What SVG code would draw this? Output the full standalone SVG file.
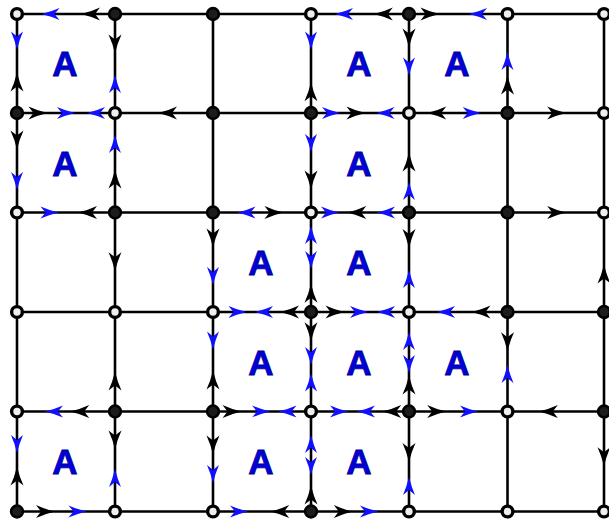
<svg xmlns="http://www.w3.org/2000/svg" width="609" height="521" viewBox="0 0 609 521">
<style>
.ln{stroke:#000;stroke-width:2.6;fill:none}
.nf{fill:#1c1c1c;stroke:#000;stroke-width:2.6}
.no{fill:#eeeeee;stroke:#000;stroke-width:3.4}
.bk{fill:#000}
.bl{fill:#1010ff}
.A{font-family:"Liberation Sans",Arial,sans-serif;font-weight:bold;font-size:35px;fill:#0000dd;stroke:#00008b;stroke-width:0.8;text-anchor:middle}
</style>
<defs>
<path id="ak" class="bk" d="M9.5,0 Q-1,-2.5 -9.5,-6.5 L-4.5,0 L-9.5,6.5 Q-1,2.5 9.5,0 Z"/>
<path id="ab" class="bl" d="M9,0 Q-1,-2.5 -9,-6 L-4,0 L-9,6 Q-1,2.5 9,0 Z"/>
</defs>
<rect width="609" height="521" fill="#fff"/>
<g id="connectors">
<g id="grid-lines">
<line class="ln" x1="17" y1="14" x2="604" y2="14"/>
<line class="ln" x1="17" y1="113" x2="604" y2="113"/>
<line class="ln" x1="17" y1="212.5" x2="604" y2="212.5"/>
<line class="ln" x1="17" y1="312" x2="604" y2="312"/>
<line class="ln" x1="17" y1="411.5" x2="604" y2="411.5"/>
<line class="ln" x1="17" y1="511.5" x2="604" y2="511.5"/>
<line class="ln" x1="17" y1="14" x2="17" y2="511.5"/>
<line class="ln" x1="115" y1="14" x2="115" y2="511.5"/>
<line class="ln" x1="213" y1="14" x2="213" y2="511.5"/>
<line class="ln" x1="311" y1="14" x2="311" y2="511.5"/>
<line class="ln" x1="409" y1="14" x2="409" y2="511.5"/>
<line class="ln" x1="507.5" y1="14" x2="507.5" y2="511.5"/>
<line class="ln" x1="604" y1="14" x2="604" y2="511.5"/>
</g>
<g id="arrows">
<use href="#ab" transform="translate(50.5 14) rotate(180)"/>
<use href="#ak" transform="translate(90.5 14) rotate(180)"/>
<use href="#ab" transform="translate(344 14) rotate(180)"/>
<use href="#ak" transform="translate(383.3 14) rotate(180)"/>
<use href="#ak" transform="translate(430 14)"/>
<use href="#ab" transform="translate(478 14) rotate(180)"/>
<use href="#ak" transform="translate(38 113)"/>
<use href="#ab" transform="translate(66 113)"/>
<use href="#ab" transform="translate(96 113) rotate(180)"/>
<use href="#ak" transform="translate(167.5 113) rotate(180)"/>
<use href="#ab" transform="translate(331 113)"/>
<use href="#ak" transform="translate(356 113)"/>
<use href="#ab" transform="translate(385.5 113) rotate(180)"/>
<use href="#ak" transform="translate(436.7 113) rotate(180)"/>
<use href="#ab" transform="translate(471.7 113)"/>
<use href="#ak" transform="translate(556.7 113)"/>
<use href="#ab" transform="translate(49.5 212.5)"/>
<use href="#ak" transform="translate(87.5 212.5) rotate(180)"/>
<use href="#ab" transform="translate(246.5 212.5) rotate(180)"/>
<use href="#ak" transform="translate(274 212.5)"/>
<use href="#ab" transform="translate(330 212.5)"/>
<use href="#ak" transform="translate(356.7 212.5) rotate(180)"/>
<use href="#ab" transform="translate(386 212.5) rotate(180)"/>
<use href="#ak" transform="translate(556.7 212.5)"/>
<use href="#ab" transform="translate(237.5 312)"/>
<use href="#ab" transform="translate(264 312) rotate(180)"/>
<use href="#ak" transform="translate(289.5 312) rotate(180)"/>
<use href="#ak" transform="translate(335 312)"/>
<use href="#ab" transform="translate(359 312)"/>
<use href="#ab" transform="translate(386 312) rotate(180)"/>
<use href="#ab" transform="translate(446 312) rotate(180)"/>
<use href="#ak" transform="translate(481 312) rotate(180)"/>
<use href="#ab" transform="translate(54 411.5) rotate(180)"/>
<use href="#ak" transform="translate(79.7 411.5) rotate(180)"/>
<use href="#ak" transform="translate(232 411.5)"/>
<use href="#ab" transform="translate(261 411.5)"/>
<use href="#ab" transform="translate(287.5 411.5) rotate(180)"/>
<use href="#ab" transform="translate(339 411.5)"/>
<use href="#ab" transform="translate(366 411.5) rotate(180)"/>
<use href="#ak" transform="translate(391.7 411.5) rotate(180)"/>
<use href="#ak" transform="translate(436.7 411.5)"/>
<use href="#ab" transform="translate(469 411.5)"/>
<use href="#ak" transform="translate(548.3 411.5) rotate(180)"/>
<use href="#ak" transform="translate(45.5 511.5)"/>
<use href="#ab" transform="translate(77.5 511.5)"/>
<use href="#ab" transform="translate(239 511.5)"/>
<use href="#ak" transform="translate(279.7 511.5) rotate(180)"/>
<use href="#ak" transform="translate(343.3 511.5)"/>
<use href="#ab" transform="translate(369 511.5)"/>
<use href="#ab" transform="translate(17 40.5) rotate(90)"/>
<use href="#ak" transform="translate(17 82) rotate(270)"/>
<use href="#ak" transform="translate(17 140) rotate(90)"/>
<use href="#ab" transform="translate(17 181) rotate(90)"/>
<use href="#ab" transform="translate(17 444) rotate(90)"/>
<use href="#ak" transform="translate(17 476) rotate(270)"/>
<use href="#ak" transform="translate(115 44) rotate(90)"/>
<use href="#ab" transform="translate(115 84) rotate(270)"/>
<use href="#ab" transform="translate(115 144) rotate(270)"/>
<use href="#ak" transform="translate(115 179) rotate(270)"/>
<use href="#ak" transform="translate(115 261.7) rotate(90)"/>
<use href="#ak" transform="translate(115 381) rotate(270)"/>
<use href="#ak" transform="translate(115 440) rotate(90)"/>
<use href="#ab" transform="translate(115 478) rotate(270)"/>
<use href="#ak" transform="translate(213 238) rotate(90)"/>
<use href="#ab" transform="translate(213 276) rotate(90)"/>
<use href="#ab" transform="translate(213 340.5) rotate(90)"/>
<use href="#ak" transform="translate(213 380) rotate(270)"/>
<use href="#ak" transform="translate(213 445) rotate(90)"/>
<use href="#ab" transform="translate(213 474) rotate(90)"/>
<use href="#ab" transform="translate(311 40.5) rotate(90)"/>
<use href="#ak" transform="translate(311 91.7) rotate(270)"/>
<use href="#ab" transform="translate(311 143) rotate(90)"/>
<use href="#ak" transform="translate(311 180) rotate(90)"/>
<use href="#ab" transform="translate(311 235) rotate(270)"/>
<use href="#ab" transform="translate(311 260) rotate(90)"/>
<use href="#ak" transform="translate(311 293.3) rotate(270)"/>
<use href="#ak" transform="translate(311 331.7) rotate(90)"/>
<use href="#ab" transform="translate(311 356) rotate(90)"/>
<use href="#ab" transform="translate(311 382.5) rotate(270)"/>
<use href="#ab" transform="translate(311 444) rotate(270)"/>
<use href="#ab" transform="translate(311 466) rotate(90)"/>
<use href="#ak" transform="translate(311 495) rotate(270)"/>
<use href="#ak" transform="translate(409 38) rotate(90)"/>
<use href="#ab" transform="translate(409 66.5) rotate(90)"/>
<use href="#ak" transform="translate(409 162) rotate(270)"/>
<use href="#ab" transform="translate(409 191) rotate(270)"/>
<use href="#ak" transform="translate(409 238.5) rotate(90)"/>
<use href="#ab" transform="translate(409 279) rotate(270)"/>
<use href="#ab" transform="translate(409 341) rotate(270)"/>
<use href="#ab" transform="translate(409 364) rotate(90)"/>
<use href="#ak" transform="translate(409 385) rotate(270)"/>
<use href="#ak" transform="translate(409 452.5) rotate(90)"/>
<use href="#ab" transform="translate(409 486) rotate(270)"/>
<use href="#ab" transform="translate(507.5 61) rotate(270)"/>
<use href="#ak" transform="translate(507.5 85) rotate(270)"/>
<use href="#ak" transform="translate(507.5 341.7) rotate(90)"/>
<use href="#ab" transform="translate(507.5 374) rotate(270)"/>
<use href="#ak" transform="translate(604 274) rotate(270)"/>
<use href="#ak" transform="translate(604 456.7) rotate(90)"/>
</g>
</g>
<g id="nodes">
<g id="n-0-0"><circle class="no" cx="17" cy="14" r="5.4"/></g>
<g id="n-1-0"><circle class="nf" cx="115" cy="14" r="5.9"/></g>
<g id="n-2-0"><circle class="nf" cx="213" cy="14" r="5.9"/></g>
<g id="n-3-0"><circle class="no" cx="311" cy="14" r="5.4"/></g>
<g id="n-4-0"><circle class="nf" cx="409" cy="14" r="5.9"/></g>
<g id="n-5-0"><circle class="no" cx="507.5" cy="14" r="5.4"/></g>
<g id="n-6-0"><circle class="no" cx="604" cy="14" r="5.4"/></g>
<g id="n-0-1"><circle class="nf" cx="17" cy="113" r="5.9"/></g>
<g id="n-1-1"><circle class="no" cx="115" cy="113" r="5.4"/></g>
<g id="n-2-1"><circle class="nf" cx="213" cy="113" r="5.9"/></g>
<g id="n-3-1"><circle class="nf" cx="311" cy="113" r="5.9"/></g>
<g id="n-4-1"><circle class="no" cx="409" cy="113" r="5.4"/></g>
<g id="n-5-1"><circle class="nf" cx="507.5" cy="113" r="5.9"/></g>
<g id="n-6-1"><circle class="no" cx="604" cy="113" r="5.4"/></g>
<g id="n-0-2"><circle class="no" cx="17" cy="212.5" r="5.4"/></g>
<g id="n-1-2"><circle class="nf" cx="115" cy="212.5" r="5.9"/></g>
<g id="n-2-2"><circle class="nf" cx="213" cy="212.5" r="5.9"/></g>
<g id="n-3-2"><circle class="no" cx="311" cy="212.5" r="5.4"/></g>
<g id="n-4-2"><circle class="nf" cx="409" cy="212.5" r="5.9"/></g>
<g id="n-5-2"><circle class="nf" cx="507.5" cy="212.5" r="5.9"/></g>
<g id="n-6-2"><circle class="no" cx="604" cy="212.5" r="5.4"/></g>
<g id="n-0-3"><circle class="no" cx="17" cy="312" r="5.4"/></g>
<g id="n-1-3"><circle class="no" cx="115" cy="312" r="5.4"/></g>
<g id="n-2-3"><circle class="no" cx="213" cy="312" r="5.4"/></g>
<g id="n-3-3"><circle class="nf" cx="311" cy="312" r="5.9"/></g>
<g id="n-4-3"><circle class="no" cx="409" cy="312" r="5.4"/></g>
<g id="n-5-3"><circle class="nf" cx="507.5" cy="312" r="5.9"/></g>
<g id="n-6-3"><circle class="nf" cx="604" cy="312" r="5.9"/></g>
<g id="n-0-4"><circle class="no" cx="17" cy="411.5" r="5.4"/></g>
<g id="n-1-4"><circle class="nf" cx="115" cy="411.5" r="5.9"/></g>
<g id="n-2-4"><circle class="nf" cx="213" cy="411.5" r="5.9"/></g>
<g id="n-3-4"><circle class="no" cx="311" cy="411.5" r="5.4"/></g>
<g id="n-4-4"><circle class="nf" cx="409" cy="411.5" r="5.9"/></g>
<g id="n-5-4"><circle class="no" cx="507.5" cy="411.5" r="5.4"/></g>
<g id="n-6-4"><circle class="nf" cx="604" cy="411.5" r="5.9"/></g>
<g id="n-0-5"><circle class="nf" cx="17" cy="511.5" r="5.9"/></g>
<g id="n-1-5"><circle class="no" cx="115" cy="511.5" r="5.4"/></g>
<g id="n-2-5"><circle class="no" cx="213" cy="511.5" r="5.4"/></g>
<g id="n-3-5"><circle class="nf" cx="311" cy="511.5" r="5.9"/></g>
<g id="n-4-5"><circle class="no" cx="409" cy="511.5" r="5.4"/></g>
<g id="n-5-5"><circle class="no" cx="507.5" cy="511.5" r="5.4"/></g>
<g id="n-6-5"><circle class="no" cx="604" cy="511.5" r="5.4"/></g>
</g>
<g id="face-labels">
<text class="A" x="65" y="76">A</text>
<text class="A" x="359" y="76">A</text>
<text class="A" x="457" y="76">A</text>
<text class="A" x="65" y="175.5">A</text>
<text class="A" x="359" y="175.5">A</text>
<text class="A" x="261" y="275">A</text>
<text class="A" x="359" y="275">A</text>
<text class="A" x="261" y="374.5">A</text>
<text class="A" x="359" y="374.5">A</text>
<text class="A" x="457" y="374.5">A</text>
<text class="A" x="65" y="474">A</text>
<text class="A" x="261" y="474">A</text>
<text class="A" x="359" y="474">A</text>
</g>
</svg>
